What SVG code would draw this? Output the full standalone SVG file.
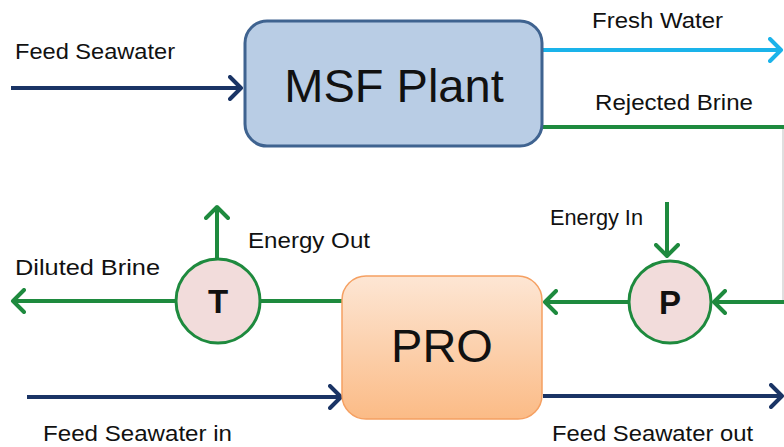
<svg xmlns="http://www.w3.org/2000/svg" width="784" height="447" viewBox="0 0 784 447">
<style>
text{font-family:"Liberation Sans",Arial,sans-serif;fill:#111}
.lbl{font-size:22.5px}
.big{font-size:47px}
.circ{font-size:33px;font-weight:bold}
.ln{fill:none;stroke-width:4}
.navy{stroke:#1a3465}
.cyan{stroke:#1ab3ea}
.green{stroke:#1e8a3e}
.node{stroke:#1e8a3e;stroke-width:3;fill:#f2dcdb}
</style>
<defs>
<marker id="aNavy" viewBox="0 0 16 26" refX="13" refY="13" markerWidth="16" markerHeight="26" markerUnits="userSpaceOnUse" orient="auto">
<path d="M2,2 L13,13 L2,24" fill="none" stroke="#1a3465" stroke-width="4" stroke-linecap="round" stroke-linejoin="round"/>
</marker>
<marker id="aCyan" viewBox="0 0 16 26" refX="13" refY="13" markerWidth="16" markerHeight="26" markerUnits="userSpaceOnUse" orient="auto">
<path d="M2,2 L13,13 L2,24" fill="none" stroke="#1ab3ea" stroke-width="4" stroke-linecap="round" stroke-linejoin="round"/>
</marker>
<marker id="aGreen" viewBox="0 0 16 26" refX="13" refY="13" markerWidth="16" markerHeight="26" markerUnits="userSpaceOnUse" orient="auto">
<path d="M2,2 L13,13 L2,24" fill="none" stroke="#1e8a3e" stroke-width="4" stroke-linecap="round" stroke-linejoin="round"/>
</marker>
<linearGradient id="proGrad" x1="0" y1="0" x2="0" y2="1">
<stop offset="0" stop-color="#fde6d4"/>
<stop offset="1" stop-color="#fbbb86"/>
</linearGradient>
</defs>

<g id="connectors">
<line class="ln navy" x1="11" y1="88" x2="241" y2="88" marker-end="url(#aNavy)"/>
<line class="ln cyan" x1="543" y1="50" x2="781" y2="50" marker-end="url(#aCyan)"/>
<line class="ln green" x1="543" y1="127" x2="784" y2="127"/>
<line x1="783" y1="129" x2="783" y2="301" stroke="#d4d4d4" stroke-width="1.5"/>
<line class="ln green" x1="784" y1="302" x2="714" y2="302" marker-end="url(#aGreen)"/>
<line class="ln green" x1="628" y1="302" x2="545" y2="302" marker-end="url(#aGreen)"/>
<line class="ln green" x1="667" y1="202" x2="667" y2="256" marker-end="url(#aGreen)"/>
<line class="ln green" x1="342" y1="301" x2="260" y2="301"/>
<line class="ln green" x1="176" y1="301" x2="13" y2="301" marker-end="url(#aGreen)"/>
<line class="ln green" x1="217" y1="259" x2="217" y2="207" marker-end="url(#aGreen)"/>
<line class="ln navy" x1="27" y1="397" x2="341" y2="397" marker-end="url(#aNavy)"/>
<line class="ln navy" x1="543" y1="396" x2="782" y2="396" marker-end="url(#aNavy)"/>
</g>

<g id="msf">
<rect x="245" y="21" width="297" height="125" rx="22" fill="#b9cde5" stroke="#3f6390" stroke-width="3"/>
<text class="big" x="394" y="102" text-anchor="middle">MSF Plant</text>
</g>

<g id="pro">
<rect x="342" y="276" width="200" height="143" rx="24" fill="url(#proGrad)" stroke="#f5a062" stroke-width="1.5"/>
<text class="big" x="442" y="362" text-anchor="middle">PRO</text>
</g>

<g id="turbine">
<circle class="node" cx="218" cy="301" r="42"/>
<text class="circ" x="218" y="313" text-anchor="middle">T</text>
</g>

<g id="pump">
<circle class="node" cx="670" cy="302" r="41"/>
<text class="circ" x="670" y="314" text-anchor="middle">P</text>
</g>

<g id="labels">
<text class="lbl" x="15" y="59" textLength="160" lengthAdjust="spacingAndGlyphs">Feed Seawater</text>
<text class="lbl" x="592" y="28" textLength="131" lengthAdjust="spacingAndGlyphs">Fresh Water</text>
<text class="lbl" x="595" y="110" textLength="158" lengthAdjust="spacingAndGlyphs">Rejected Brine</text>
<text class="lbl" x="550" y="225" textLength="93" lengthAdjust="spacingAndGlyphs">Energy In</text>
<text class="lbl" x="248" y="248" textLength="122" lengthAdjust="spacingAndGlyphs">Energy Out</text>
<text class="lbl" x="15" y="275" textLength="145" lengthAdjust="spacingAndGlyphs">Diluted Brine</text>
<text class="lbl" x="43" y="441" textLength="189" lengthAdjust="spacingAndGlyphs">Feed Seawater in</text>
<text class="lbl" x="552" y="441" textLength="201" lengthAdjust="spacingAndGlyphs">Feed Seawater out</text>
</g>
</svg>
